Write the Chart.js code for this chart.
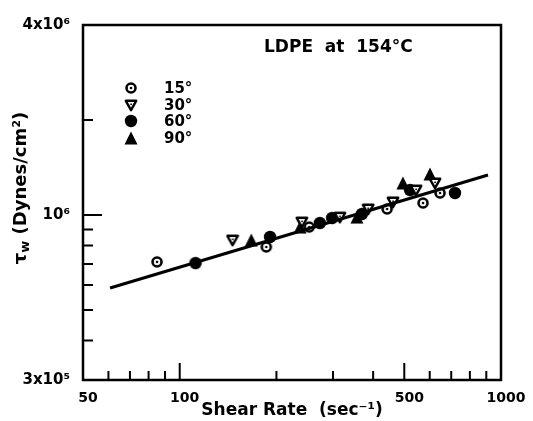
<!DOCTYPE html>
<html>
<head>
<meta charset="utf-8">
<script src="https://cdn.jsdelivr.net/npm/chart.js@4"></script>
<style>
  body { margin: 0; background: #fff; }
  #wrap { width: 533px; height: 421px; }
</style>
</head>
<body>
<div id="wrap"><canvas id="c"></canvas></div>
<script>
// shear rate (1/s) and wall shear stress (dyn/cm2)
const rate15 = [85, 186, 253, 442, 572, 646];
const tau15 = [7.10e5, 7.92e5, 9.16e5, 1.045e6, 1.091e6, 1.174e6];
const rate30 = [146, 240, 315, 386, 461, 544, 623];
const tau30 = [8.33e5, 9.50e5, 9.85e5, 1.045e6, 1.10e6, 1.20e6, 1.263e6];
const rate60 = [112, 191, 273, 298, 369, 521, 719];
const tau60 = [7.04e5, 8.52e5, 9.43e5, 9.78e5, 1.007e6, 1.20e6, 1.174e6];
const rate90 = [167, 237, 356, 495, 601];
const tau90 = [8.33e5, 9.16e5, 9.85e5, 1.263e6, 1.349e6];
const fitRate = [60.7, 911];
const fitTau = [5.87e5, 1.339e6];

const xTicks = [50, 60, 70, 80, 90, 100, 200, 300, 400, 500, 600, 700, 800, 900, 1000];
const xLabels = { 50: '50', 100: '100', 500: '500', 1000: '1000' };
const yTicks = [3e5, 4e5, 5e5, 6e5, 7e5, 8e5, 9e5, 1e6, 2e6, 4e6];
const yLabels = { 3e5: '3x10\u2075', 1e6: '10\u2076', 4e6: '4x10\u2076' };
const legendLabels = ['15\u00b0', '30\u00b0', '60\u00b0', '90\u00b0'];

const FONT = '"DejaVu Sans", sans-serif';

function pts(xs, ys) { return xs.map((v, i) => ({ x: v, y: ys[i] })); }

function mk(draw) {
  const c = document.createElement('canvas');
  c.width = 14; c.height = 14;
  draw(c.getContext('2d'));
  return c;
}
const ringDot = mk(g => {
  g.fillStyle = '#fff'; g.strokeStyle = '#000'; g.lineWidth = 2.6;
  g.beginPath(); g.arc(7, 7, 4.5, 0, Math.PI * 2); g.fill(); g.stroke();
  g.fillStyle = '#000'; g.beginPath(); g.arc(7, 7, 1.3, 0, Math.PI * 2); g.fill();
});
const triDown = mk(g => {
  g.fillStyle = '#fff'; g.strokeStyle = '#000'; g.lineWidth = 2.4; g.lineJoin = 'round';
  g.beginPath(); g.moveTo(1.8, 2.8); g.lineTo(12.2, 2.8); g.lineTo(7, 12.2); g.closePath(); g.fill(); g.stroke();
  g.fillStyle = '#000'; g.fillRect(6.3, 5.5, 1.6, 1.6);
});
const dotFill = mk(g => {
  g.fillStyle = '#000'; g.beginPath(); g.arc(7, 7, 6.2, 0, Math.PI * 2); g.fill();
});
const triUp = mk(g => {
  g.fillStyle = '#000';
  g.beginPath(); g.moveTo(7, 0.5); g.lineTo(13.5, 13.5); g.lineTo(0.5, 13.5); g.closePath(); g.fill();
});
const markers = [ringDot, triDown, dotFill, triUp];

const decor = {
  id: 'decor',
  afterDraw(chart) {
    const { ctx, chartArea: a, scales: { x, y } } = chart;
    ctx.save();
    ctx.strokeStyle = '#000';
    ctx.lineWidth = 2.5;
    ctx.strokeRect(a.left, a.top, a.right - a.left, a.bottom - a.top);
    // inward ticks
    ctx.lineWidth = 2;
    ctx.beginPath();
    x.ticks.forEach(t => {
      const px = x.getPixelForValue(t.value);
      const len = (t.value === 100 || t.value === 500) ? 17 : 9;
      ctx.moveTo(px, a.bottom); ctx.lineTo(px, a.bottom - len);
    });
    y.ticks.forEach(t => {
      const py = y.getPixelForValue(t.value);
      const len = t.value === 1e6 ? 19 : 10;
      ctx.moveTo(a.left, py); ctx.lineTo(a.left + len, py);
    });
    ctx.stroke();

    ctx.fillStyle = '#000';
    // y title with subscript
    ctx.save();
    ctx.translate(21, 188);
    ctx.rotate(-Math.PI / 2);
    ctx.textBaseline = 'middle';
    const big = 'bold 18px ' + FONT, small = 'bold 13px ' + FONT;
    const t1 = '\u03c4', t3 = ' (Dynes/cm\u00b2)';
    ctx.font = small;
    const wW = ctx.measureText('w').width;
    ctx.font = big;
    const w1 = ctx.measureText(t1).width, w3 = ctx.measureText(t3).width;
    const sx = -(w1 + wW + w3) / 2;
    ctx.fillText(t1, sx, 0);
    ctx.font = small;
    ctx.fillText('w', sx + w1, 5);
    ctx.font = big;
    ctx.fillText(t3, sx + w1 + wW, 0);
    ctx.restore();

    // annotation
    ctx.font = 'bold 17px ' + FONT;
    ctx.textBaseline = 'middle';
    ctx.textAlign = 'left';
    ctx.fillText('LDPE  at  154\u00b0C', 264, 48);

    // legend
    const rows = [88, 105, 121, 138];
    ctx.font = 'bold 15px ' + FONT;
    rows.forEach((ry, i) => {
      ctx.drawImage(markers[i], 131 - 7, ry - 7);
      ctx.fillText(legendLabels[i], 164, ry + 1);
    });
    ctx.restore();
  }
};

const ds = (data, img) => ({
  type: 'scatter', data, pointStyle: img, pointRadius: 6, pointHoverRadius: 6,
  borderColor: '#000', backgroundColor: '#000'
});

new Chart(document.getElementById('c'), {
  data: {
    datasets: [
      { type: 'line', data: pts(fitRate, fitTau), borderColor: '#000', borderWidth: 3,
        pointRadius: 0, tension: 0 },
      ds(pts(rate15, tau15), ringDot),
      ds(pts(rate30, tau30), triDown),
      ds(pts(rate60, tau60), dotFill),
      ds(pts(rate90, tau90), triUp)
    ]
  },
  options: {
    responsive: true,
    maintainAspectRatio: false,
    animation: false,
    events: [],
    layout: { padding: { top: 25, right: 32, left: 0, bottom: 0 } },
    plugins: { legend: { display: false }, tooltip: { enabled: false } },
    scales: {
      x: {
        type: 'logarithmic', min: 50, max: 1000,
        grid: { display: false }, border: { display: false },
        afterBuildTicks: s => { s.ticks = xTicks.map(v => ({ value: v })); },
        afterFit: s => { s.height = 41; },
        ticks: {
          autoSkip: false, maxRotation: 0, padding: 2, labelOffset: 5,
          color: '#000', font: { family: FONT, weight: 'bold', size: 14 },
          callback: v => xLabels[v] || ''
        },
        title: {
          display: true, text: 'Shear Rate  (sec\u207b\u00b9)', color: '#000',
          font: { family: FONT, weight: 'bold', size: 17 }, padding: { top: 0, bottom: 0 }
        }
      },
      y: {
        type: 'logarithmic', min: 3e5, max: 4e6,
        grid: { display: false }, border: { display: false },
        afterBuildTicks: s => { s.ticks = yTicks.map(v => ({ value: v })); },
        afterFit: s => { s.width = 83; },
        ticks: {
          autoSkip: false, padding: 5, color: '#000',
          font: { family: FONT, weight: 'bold', size: 15 },
          callback: v => yLabels[v] || ''
        }
      }
    }
  },
  plugins: [decor]
});
</script>
</body>
</html>
